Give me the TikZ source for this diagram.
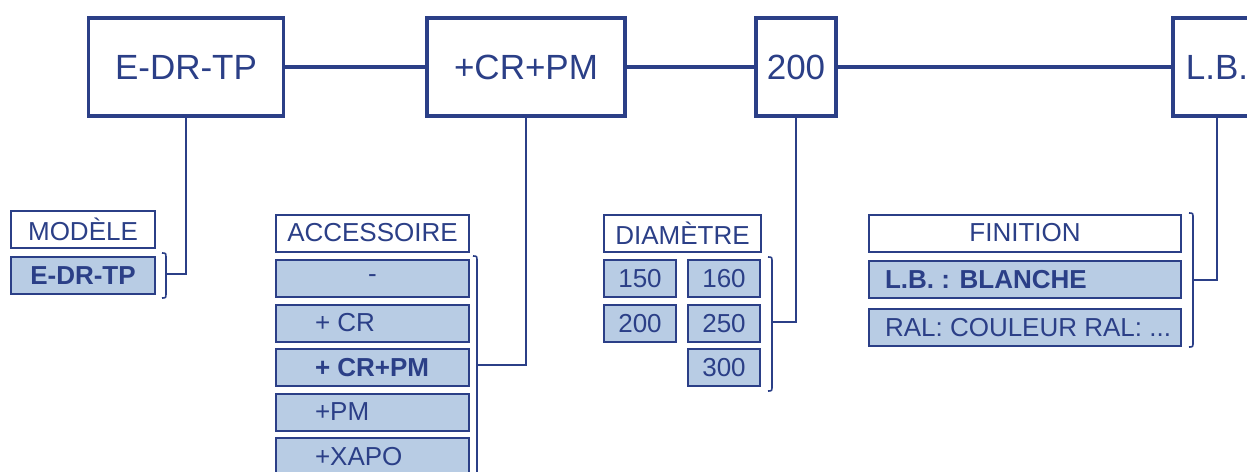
\documentclass[tikz,border=0pt]{standalone}
\usepackage{fontspec}
\setmainfont{Liberation Sans}
\usetikzlibrary{positioning}
\definecolor{navy}{RGB}{43,63,135}
\definecolor{paleblue}{RGB}{184,204,228}
\tikzstyle{link}= [navy, line width=3.5pt]
\tikzstyle{stem}= [navy, line width=1.8pt]
\tikzstyle{bracket}= [navy, line width=1.6pt]

\begin{document}
\begin{tikzpicture}[
    x=1pt, y=-1pt,
    node distance=44.5pt,
    topbox/.style={
    draw=navy, line width=3.5pt, fill=white, text=navy, inner sep=0pt,
    minimum height=98pt, font=\fontsize{35}{40}\selectfont
    },
    headbox/.style={
    draw=navy, line width=2pt, fill=white, text=navy, inner sep=0pt,
    minimum height=37pt, font=\fontsize{26}{30}\selectfont
    },
    itembox/.style={headbox, fill=paleblue}
  ]
  \useasboundingbox (0,0) rectangle (1247,471);
  \clip (0,0) rectangle (1247,471);

  % code blocks
  \node[topbox,minimum width=195pt] (code1) at (186,67) {E-DR-TP};
  \node[topbox,minimum width=198pt] (code2) at (526,67) {+CR+PM};
  \node[topbox,minimum width=80pt] (code3) at (796,67) {200};
  \node[topbox,minimum width=88pt] (code4) at (1217,67) {L.B.};
  \draw[link] (code1) -- (code2);
  \draw[link] (code2) -- (code3);
  \draw[link] (code3) -- (code4);

  % modele
  \node[headbox,minimum width=144pt] (mod) at (83,229) {MODÈLE};
  \node[itembox,minimum width=144pt,below of=mod,node distance=46.5pt] (modA) {\textbf{E-DR-TP}};

  % accessoire
  \node[headbox,minimum width=193pt] (acc) at (372.5,233) {ACCESSOIRE};
  \node[itembox,minimum width=193pt,below of=acc,node distance=45.5pt] (accA) {-};
  \node[itembox,minimum width=193pt,below of=accA] (accB) {\makebox[115pt][l]{+ CR}};
  \node[itembox,minimum width=193pt,below of=accB] (accC) {\makebox[115pt][l]{\textbf{+ CR+PM}}};
  \node[itembox,minimum width=193pt,below of=accC] (accD) {\makebox[115pt][l]{+PM}};
  \node[itembox,minimum width=193pt,below of=accD] (accE) {\makebox[115pt][l]{+XAPO}};

  % diametre
  \node[headbox,minimum width=157pt] (dia) at (682.5,233) {DIAMÈTRE};
  \node[itembox,minimum width=72pt] (d150) at (640,278.5) {150};
  \node[itembox,minimum width=72pt,right of=d150,node distance=84pt] (d160) {160};
  \node[itembox,minimum width=72pt,below of=d150,node distance=45pt] (d200) {200};
  \node[itembox,minimum width=72pt,below of=d160,node distance=45pt] (d250) {250};
  \node[itembox,minimum width=72pt,below of=d250,node distance=44pt] (d300) {300};

  % finition
  \node[headbox,minimum width=312pt] (fin) at (1025,233) {FINITION};
  \node[itembox,minimum width=312pt,below of=fin,node distance=46.5pt] (finA) {\makebox[280pt][l]{\textbf{L.B. : BLANCHE}}};
  \node[itembox,minimum width=312pt,below of=finA,node distance=48pt] (finB) {\makebox[280pt][l]{RAL: COULEUR RAL: ...}};

  % brackets
  \draw[bracket] (162,253) .. controls (166,253) .. (166,259) -- (166,292) .. controls (166,298) .. (162,298);
  \coordinate (modmid) at (166,274);
  \draw[bracket] (473,256) .. controls (477,256) .. (477,262) -- (477,476);
  \coordinate (accmid) at (477,365);
  \draw[bracket] (768,257) .. controls (772,257) .. (772,263) -- (772,385) .. controls (772,391) .. (768,391);
  \coordinate (diamid) at (772,322);
  \draw[bracket] (1189,213) .. controls (1193,213) .. (1193,219) -- (1193,341) .. controls (1193,347) .. (1189,347);
  \coordinate (finmid) at (1193,280);

  % stems
  \draw[stem] (modmid) -| (code1.south);
  \draw[stem] (accmid) -| (code2.south);
  \draw[stem] (diamid) -| (code3.south);
  \draw[stem] (finmid) -| (code4.south);

\end{tikzpicture}
\end{document}
